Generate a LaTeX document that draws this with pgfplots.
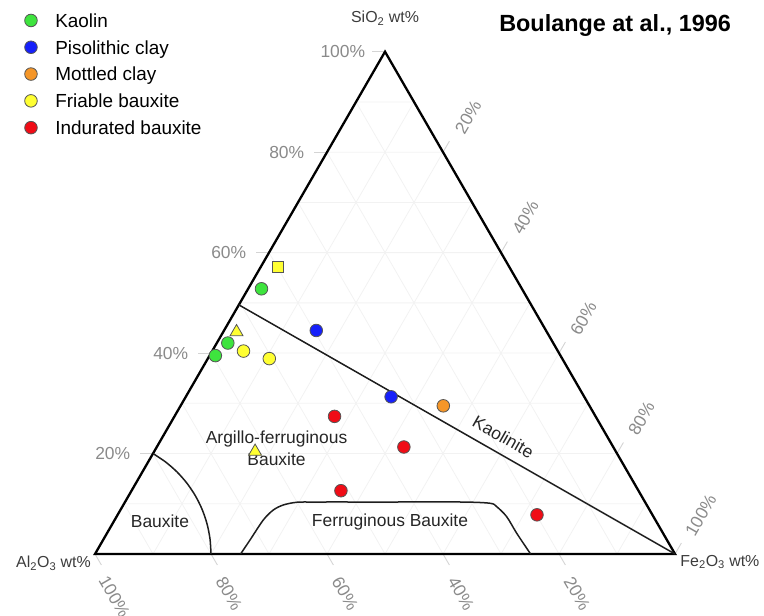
\documentclass[border=0pt]{standalone}
\usepackage{fontspec}
\setmainfont{Liberation Sans}
\usepackage{pgfplots}
\usepackage{pgfplotstable}
\pgfplotsset{compat=1.18}

\definecolor{cgreen}{RGB}{62,228,62}
\definecolor{cblue}{RGB}{22,32,250}
\definecolor{corange}{RGB}{245,150,40}
\definecolor{cyellow}{RGB}{255,255,50}
\definecolor{cred}{RGB}{240,12,22}
\definecolor{mkgray}{RGB}{85,85,85}
\definecolor{gridc}{RGB}{242,242,242}
\definecolor{tickc}{RGB}{212,212,212}
\definecolor{ticklab}{RGB}{138,138,138}
\definecolor{labc}{RGB}{60,60,60}
\definecolor{curvec}{RGB}{30,30,30}

\tikzset{
  tl/.style={font=\fontsize{17.5}{18}\selectfont, text=ticklab, inner sep=0pt},
  reg/.style={font=\fontsize{17.5}{22}\selectfont, text=black!85, inner sep=0pt},
  axl/.style={font=\fontsize{16}{18}\selectfont, text=labc, inner sep=0pt},
}
\pgfplotsset{table/tern/.style={x expr=\thisrow{Fe}+0.5*\thisrow{Si}, y expr=0.8660254*\thisrow{Si}}}

% ternary compositions: SiO2 and Fe2O3 wt% (Al2O3 = 100 - Si - Fe)
\pgfplotstableread{
Si Fe
52.8 2.3
42.0 1.9
39.5 1.0
}\kaolin
\pgfplotstableread{
Si Fe
44.5 15.9
31.3 35.4
}\pisol
\pgfplotstableread{
Si Fe
29.5 45.3
}\mottled
\pgfplotstableread{
Si Fe
40.4 5.4
38.9 10.6
}\friablec
\pgfplotstableread{
Si Fe
44.2 2.3
20.4 17.4
}\friablet
\pgfplotstableread{
Si Fe
57.2 2.9
}\friables
\pgfplotstableread{
Si Fe
27.4 27.6
21.3 42.6
12.6 36.1
7.8 72.3
}\indurated

% grid lines (zig-zag; joins lie on the triangle edges)
\pgfplotstableread{
Si Fe
10 0
10 90
20 80
20 0
30 0
30 70
40 60
40 0
50 0
50 50
60 40
60 0
70 0
70 30
80 20
80 0
90 0
90 10
}\gridSi
\pgfplotstableread{
Si Fe
0 10
90 10
80 20
0 20
0 30
70 30
60 40
0 40
0 50
50 50
40 60
0 60
0 70
30 70
20 80
0 80
0 90
10 90
}\gridFe
\pgfplotstableread{
Si Fe
0 90
90 0
80 0
0 80
0 70
70 0
60 0
0 60
0 50
50 0
40 0
0 40
0 30
30 0
20 0
0 20
0 10
10 0
}\gridAl
\pgfplotstableread{
Si Fe
0 0
0 100
100 0
}\border
\pgfplotstableread{
Si Fe
49.6 0
0 100
}\kaolinite
\pgfplotstableread{
Si Fe
20 0
18.32 3.01
16.33 5.98
14.06 8.84
11.55 11.55
8.84 14.06
5.98 16.33
3.01 18.32
0 20
}\bauxcurve
\pgfplotstableread{
Si Fe
0 25.1
2.79 25.33
6.77 25.63
8.76 26.36
9.76 27.59
10.3 29.63
10.35 33
10.35 45
10.35 58
10.1 63.05
9.42 64.55
7.43 67.26
4.12 70.65
0 75.1
}\ferrcurve

\begin{document}
\begin{tikzpicture}
\begin{axis}[
  scale only axis, width=764bp, height=616bp,
  xmin=-16.38, xmax=115.34, ymin=-10.69, ymax=95.52,
  hide axis, clip=false,
  legend style={at={(axis cs:-12.16,93.2)}, anchor=north west, draw=none, fill=none,
    inner sep=0pt, row sep=13.2bp, column sep=18bp,
    font=\fontsize{19}{19}\selectfont,
    nodes={inner sep=0pt, text height=13.6bp, text depth=0bp}},
  legend cell align=left,
  mk/.style={only marks, mark options={draw=mkgray, line width=0.8bp}},
]
% grid
\addplot[gridc, line width=0.8bp, forget plot] table[tern] {\gridSi};
\addplot[gridc, line width=0.8bp, forget plot] table[tern] {\gridFe};
\addplot[gridc, line width=0.8bp, forget plot] table[tern] {\gridAl};

% outer ticks
\draw[tickc, line width=0.9bp] (axis cs:10,17.32) -- (axis cs:7.8,17.32);
\draw[tickc, line width=0.9bp] (axis cs:20,34.64) -- (axis cs:17.8,34.64);
\draw[tickc, line width=0.9bp] (axis cs:30,51.96) -- (axis cs:27.8,51.96);
\draw[tickc, line width=0.9bp] (axis cs:40,69.28) -- (axis cs:37.8,69.28);
\draw[tickc, line width=0.9bp] (axis cs:50,86.60) -- (axis cs:47.8,86.60);
\draw[tickc, line width=0.9bp] (axis cs:0,0) -- (axis cs:1.1,-1.9);
\draw[tickc, line width=0.9bp] (axis cs:20,0) -- (axis cs:21.1,-1.9);
\draw[tickc, line width=0.9bp] (axis cs:40,0) -- (axis cs:41.1,-1.9);
\draw[tickc, line width=0.9bp] (axis cs:60,0) -- (axis cs:61.1,-1.9);
\draw[tickc, line width=0.9bp] (axis cs:80,0) -- (axis cs:81.1,-1.9);
\draw[tickc, line width=0.9bp] (axis cs:60,69.28) -- (axis cs:61.1,71.18);
\draw[tickc, line width=0.9bp] (axis cs:70,51.96) -- (axis cs:71.1,53.86);
\draw[tickc, line width=0.9bp] (axis cs:80,34.64) -- (axis cs:81.1,36.54);
\draw[tickc, line width=0.9bp] (axis cs:90,17.32) -- (axis cs:91.1,19.22);
\draw[tickc, line width=0.9bp] (axis cs:100,0) -- (axis cs:101.1,1.9);

% triangle
\addplot[black, line width=2.3bp, line join=miter, forget plot] table[tern] {\border} -- cycle;
% boundaries
\addplot[curvec, line width=1.5bp, forget plot] table[tern] {\kaolinite};
\addplot[curvec, line width=1.5bp, smooth, tension=0.5, forget plot] table[tern] {\bauxcurve};
\addplot[curvec, line width=1.5bp, smooth, tension=0.5, forget plot] table[tern] {\ferrcurve};

% data
\addplot[mk, mark=*, mark size=6.3bp, fill=cgreen] table[tern] {\kaolin};
\addlegendentry{Kaolin}
\addplot[mk, mark=*, mark size=6.3bp, fill=cblue] table[tern] {\pisol};
\addlegendentry{Pisolithic clay}
\addplot[mk, mark=*, mark size=6.3bp, fill=corange] table[tern] {\mottled};
\addlegendentry{Mottled clay}
\addplot[mk, mark=*, mark size=6.3bp, fill=cyellow] table[tern] {\friablec};
\addlegendentry{Friable bauxite}
\addplot[mk, mark=*, mark size=6.3bp, fill=cred] table[tern] {\indurated};
\addlegendentry{Indurated bauxite}
\addplot[mk, mark=triangle*, mark size=7.5bp, fill=cyellow, forget plot] table[tern] {\friablet};
\addplot[mk, mark=square*, mark size=5.3bp, fill=cyellow, forget plot] table[tern] {\friables};

% tick labels
\node[tl, anchor=east] at (axis cs:6.1,17.32) {20\%};
\node[tl, anchor=east] at (axis cs:16.1,34.64) {40\%};
\node[tl, anchor=east] at (axis cs:26.1,51.96) {60\%};
\node[tl, anchor=east] at (axis cs:36.1,69.28) {80\%};
\node[tl, anchor=east] at (axis cs:46.6,86.60) {100\%};
\node[tl, anchor=west, rotate=-60] at (axis cs:1.4,-4.0) {100\%};
\node[tl, anchor=west, rotate=-60] at (axis cs:21.6,-4.2) {80\%};
\node[tl, anchor=west, rotate=-60] at (axis cs:41.6,-4.2) {60\%};
\node[tl, anchor=west, rotate=-60] at (axis cs:61.6,-4.2) {40\%};
\node[tl, anchor=west, rotate=-60] at (axis cs:81.6,-4.2) {20\%};
\node[tl, anchor=west, rotate=60] at (axis cs:62.8,72.7) {20\%};
\node[tl, anchor=west, rotate=60] at (axis cs:72.7,55.4) {40\%};
\node[tl, anchor=west, rotate=60] at (axis cs:82.7,38.0) {60\%};
\node[tl, anchor=west, rotate=60] at (axis cs:92.7,20.7) {80\%};
\node[tl, anchor=west, rotate=60] at (axis cs:102.5,3.3) {100\%};

% axis titles
\node[axl] at (axis cs:50,92.4) {SiO\textsubscript{2} wt\%};
\node[axl, anchor=east] at (axis cs:-0.7,-1.55) {Al\textsubscript{2}O\textsubscript{3} wt\%};
\node[axl, anchor=west] at (axis cs:100.9,-1.4) {Fe\textsubscript{2}O\textsubscript{3} wt\%};

% region labels
\node[reg] at (axis cs:11.2,5.57) {Bauxite};
\node[reg] at (axis cs:50.86,5.57) {Ferruginous Bauxite};
\node[reg, align=center] at (axis cs:31.3,18.3) {Argillo-ferruginous\\Bauxite};
\node[reg, rotate=-29.7] at (axis cs:70.4,20.2) {Kaolinite};

% title
\node[font=\bfseries\fontsize{23.5}{26}\selectfont, inner sep=0pt] at (axis cs:89.66,91.2) {Boulange at al., 1996};
\end{axis}
\pgfresetboundingbox
\path (current axis.south west) rectangle (current axis.north east);
\end{tikzpicture}
\end{document}
